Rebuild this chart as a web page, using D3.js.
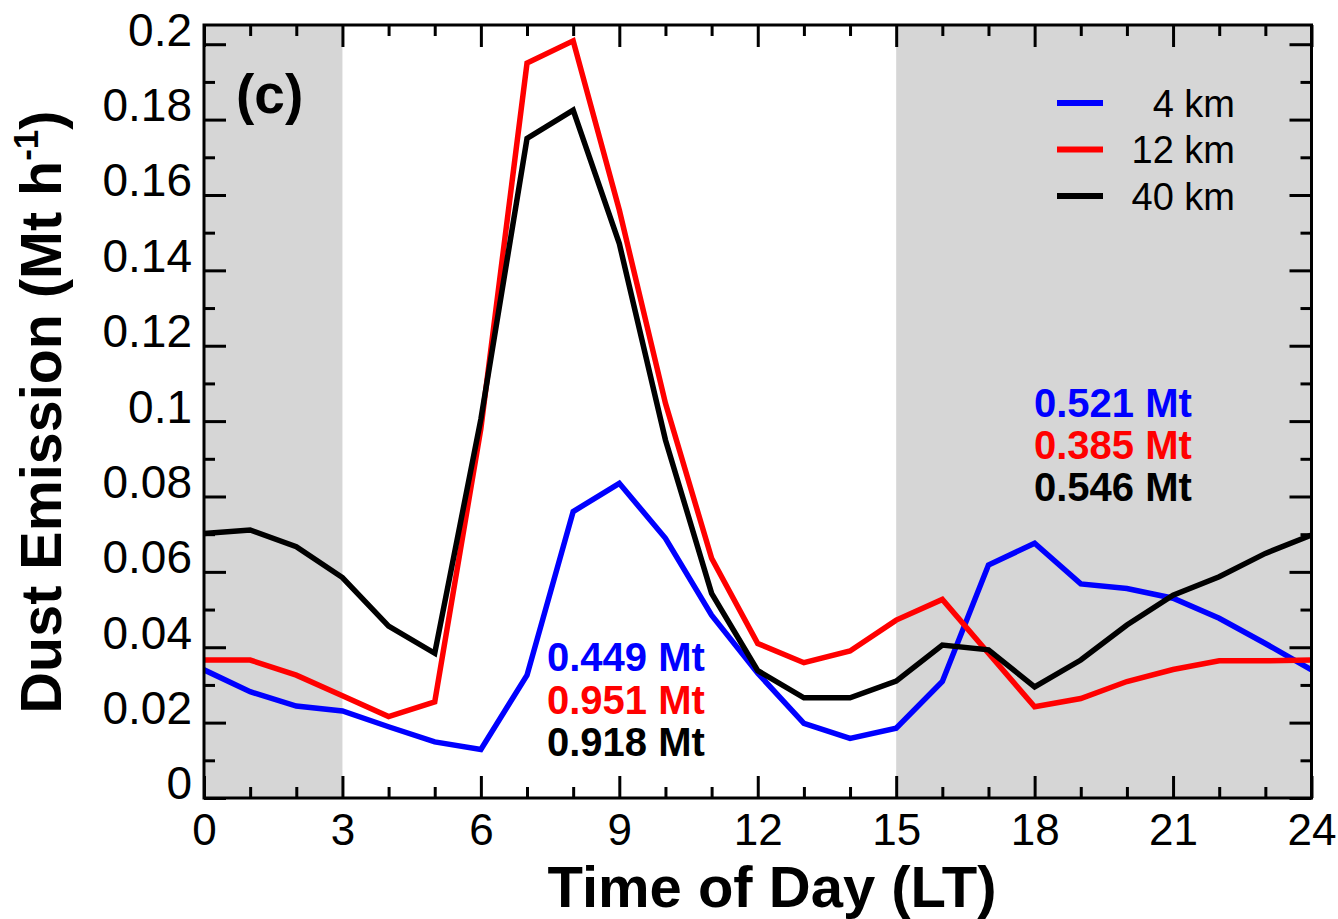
<!DOCTYPE html>
<html>
<head>
<meta charset="utf-8">
<script src="https://cdn.jsdelivr.net/npm/d3@7"></script>
<style>
  html, body { margin: 0; padding: 0; background: #fff; }
  svg { display: block; }
  text { font-family: "Liberation Sans", Arial, Helvetica, sans-serif; }
</style>
</head>
<body>
<svg id="chart" width="1338" height="919"></svg>
<script>
// Hour of day (local time)
const hours = d3.range(0, 25);

// Hourly dust emission (Mt h-1) for each grid resolution
const emission4km = [0.034, 0.0282, 0.0244, 0.0231, 0.0189, 0.0149, 0.0129, 0.0326, 0.076, 0.0835,
  0.0689, 0.0485, 0.0331, 0.0198, 0.0158, 0.0185, 0.0309, 0.0618, 0.0676, 0.0568,
  0.0556, 0.053, 0.0477, 0.041, 0.034];
const emission12km = [0.0366, 0.0366, 0.0326, 0.0271, 0.0216, 0.0255, 0.098, 0.195, 0.2009, 0.156,
  0.1047, 0.0636, 0.041, 0.0359, 0.039, 0.0472, 0.0527, 0.0384, 0.0242, 0.0264,
  0.0309, 0.0341, 0.0364, 0.0364, 0.0366];
const emission40km = [0.0702, 0.0711, 0.0667, 0.0585, 0.0456, 0.0384, 0.1005, 0.175, 0.1825, 0.1471,
  0.095, 0.0543, 0.0338, 0.0266, 0.0266, 0.031, 0.0406, 0.0393, 0.0295, 0.0366,
  0.0459, 0.0538, 0.0587, 0.0649, 0.0698];

const seriesNames = ["4 km", "12 km", "40 km"];
const seriesColors = ["#0000ff", "#ff0000", "#000000"];

// Night-time periods (shaded)
const nightSpans = [[0, 3], [15, 24]];

// Period totals: daytime (3-15 LT) and night-time
const dayTotals = ["0.449 Mt", "0.951 Mt", "0.918 Mt"];
const nightTotals = ["0.521 Mt", "0.385 Mt", "0.546 Mt"];

// Axis ticks
const xMajorTicks = d3.range(0, 25, 3);
const xMinorTicks = d3.range(0, 25, 1).filter(h => h % 3 !== 0);
const yMajorTicks = d3.range(0, 11).map(i => +(i * 0.02).toFixed(2));
const yMinorTicks = d3.range(0, 10).map(i => +(i * 0.02 + 0.01).toFixed(2));

const plotLeft = 204, plotRight = 1311.5, plotTop = 25, plotBottom = 798;

const x = d3.scaleLinear().domain([0, 24]).range([plotLeft, plotRight]);
const y = d3.scaleLinear().domain([0, 0.2051]).range([plotBottom, plotTop]);

const svg = d3.select("#chart");

svg.append("defs").append("clipPath").attr("id", "plotClip")
  .append("rect").attr("x", plotLeft).attr("y", plotTop)
  .attr("width", plotRight - plotLeft).attr("height", plotBottom - plotTop);

// Shaded night periods
svg.append("g").selectAll("rect").data(nightSpans).join("rect")
  .attr("x", d => x(d[0])).attr("y", plotTop)
  .attr("width", d => x(d[1]) - x(d[0])).attr("height", plotBottom - plotTop)
  .attr("fill", "#d6d6d6");

// Axes: ticks point into the plot on all four sides
function styleAxis(g) {
  g.select(".domain").remove();
  g.selectAll(".tick line").attr("stroke", "#000").attr("stroke-width", 3);
}

const fmtY = d => (d === 0 ? "0" : String(+d.toFixed(2)));

svg.append("g").attr("transform", `translate(${plotLeft},0)`)
  .call(d3.axisLeft(y).tickValues(yMajorTicks).tickSize(-22).tickPadding(12).tickFormat(fmtY))
  .call(styleAxis)
  .call(g => g.selectAll("text").attr("dy", "0.02em").attr("font-size", 46)
    .attr("fill", "#000").attr("font-family", "Liberation Sans, Arial, sans-serif"));
svg.append("g").attr("transform", `translate(${plotLeft},0)`)
  .call(d3.axisLeft(y).tickValues(yMinorTicks).tickSize(-11).tickFormat(""))
  .call(styleAxis);
svg.append("g").attr("transform", `translate(${plotRight},0)`)
  .call(d3.axisRight(y).tickValues(yMajorTicks).tickSize(-22).tickFormat(""))
  .call(styleAxis);
svg.append("g").attr("transform", `translate(${plotRight},0)`)
  .call(d3.axisRight(y).tickValues(yMinorTicks).tickSize(-11).tickFormat(""))
  .call(styleAxis);

svg.append("g").attr("transform", `translate(0,${plotBottom})`)
  .call(d3.axisBottom(x).tickValues(xMajorTicks).tickSize(-22).tickPadding(0).tickFormat(d3.format("d")))
  .call(styleAxis)
  .call(g => g.selectAll("text").attr("y", 47).attr("dy", "0").attr("font-size", 44)
    .attr("fill", "#000").attr("font-family", "Liberation Sans, Arial, sans-serif"));
svg.append("g").attr("transform", `translate(0,${plotBottom})`)
  .call(d3.axisBottom(x).tickValues(xMinorTicks).tickSize(-11).tickFormat(""))
  .call(styleAxis);
svg.append("g").attr("transform", `translate(0,${plotTop})`)
  .call(d3.axisTop(x).tickValues(xMajorTicks).tickSize(-22).tickFormat(""))
  .call(styleAxis);
svg.append("g").attr("transform", `translate(0,${plotTop})`)
  .call(d3.axisTop(x).tickValues(xMinorTicks).tickSize(-11).tickFormat(""))
  .call(styleAxis);

// Emission curves
const line = d3.line().x((d, i) => x(hours[i])).y(d => y(d));
const allSeries = [emission4km, emission12km, emission40km];
svg.append("g").attr("clip-path", "url(#plotClip)")
  .selectAll("path").data(allSeries).join("path")
  .attr("d", line)
  .attr("fill", "none")
  .attr("stroke", (d, i) => seriesColors[i])
  .attr("stroke-width", 5.5)
  .attr("stroke-linejoin", "miter");

// Frame
svg.append("rect").attr("x", plotLeft).attr("y", plotTop)
  .attr("width", plotRight - plotLeft).attr("height", plotBottom - plotTop)
  .attr("fill", "none").attr("stroke", "#000").attr("stroke-width", 3);

// Panel label
svg.append("text").attr("x", 236).attr("y", 113)
  .attr("font-size", 55).attr("font-weight", "bold").text("(c)");

// Legend
const legend = svg.append("g");
seriesNames.forEach((name, i) => {
  const ly = 103 + i * 46.5;
  legend.append("line").attr("x1", 1057).attr("x2", 1103).attr("y1", ly).attr("y2", ly)
    .attr("stroke", seriesColors[i]).attr("stroke-width", 6);
  legend.append("text").attr("x", 1235).attr("y", ly + 13.5)
    .attr("text-anchor", "end").attr("font-size", 38).text(name);
});

// Period totals
dayTotals.forEach((t, i) => {
  svg.append("text").attr("x", 547).attr("y", 671 + i * 42.5)
    .attr("font-size", 40).attr("font-weight", "bold")
    .attr("fill", seriesColors[i]).text(t);
});
nightTotals.forEach((t, i) => {
  svg.append("text").attr("x", 1034).attr("y", 417 + i * 42)
    .attr("font-size", 40).attr("font-weight", "bold")
    .attr("fill", seriesColors[i]).text(t);
});

// Axis titles
svg.append("text").attr("x", 772).attr("y", 907)
  .attr("text-anchor", "middle").attr("font-size", 58).attr("font-weight", "bold")
  .text("Time of Day (LT)");

const yTitle = svg.append("text")
  .attr("transform", "translate(61,412) rotate(-90)")
  .attr("text-anchor", "middle").attr("font-size", 57.5).attr("font-weight", "bold");
yTitle.append("tspan").text("Dust Emission (Mt h");
yTitle.append("tspan").attr("font-size", 35).attr("dy", -23).text("-1");
yTitle.append("tspan").attr("dy", 23).text(")");
</script>
</body>
</html>
